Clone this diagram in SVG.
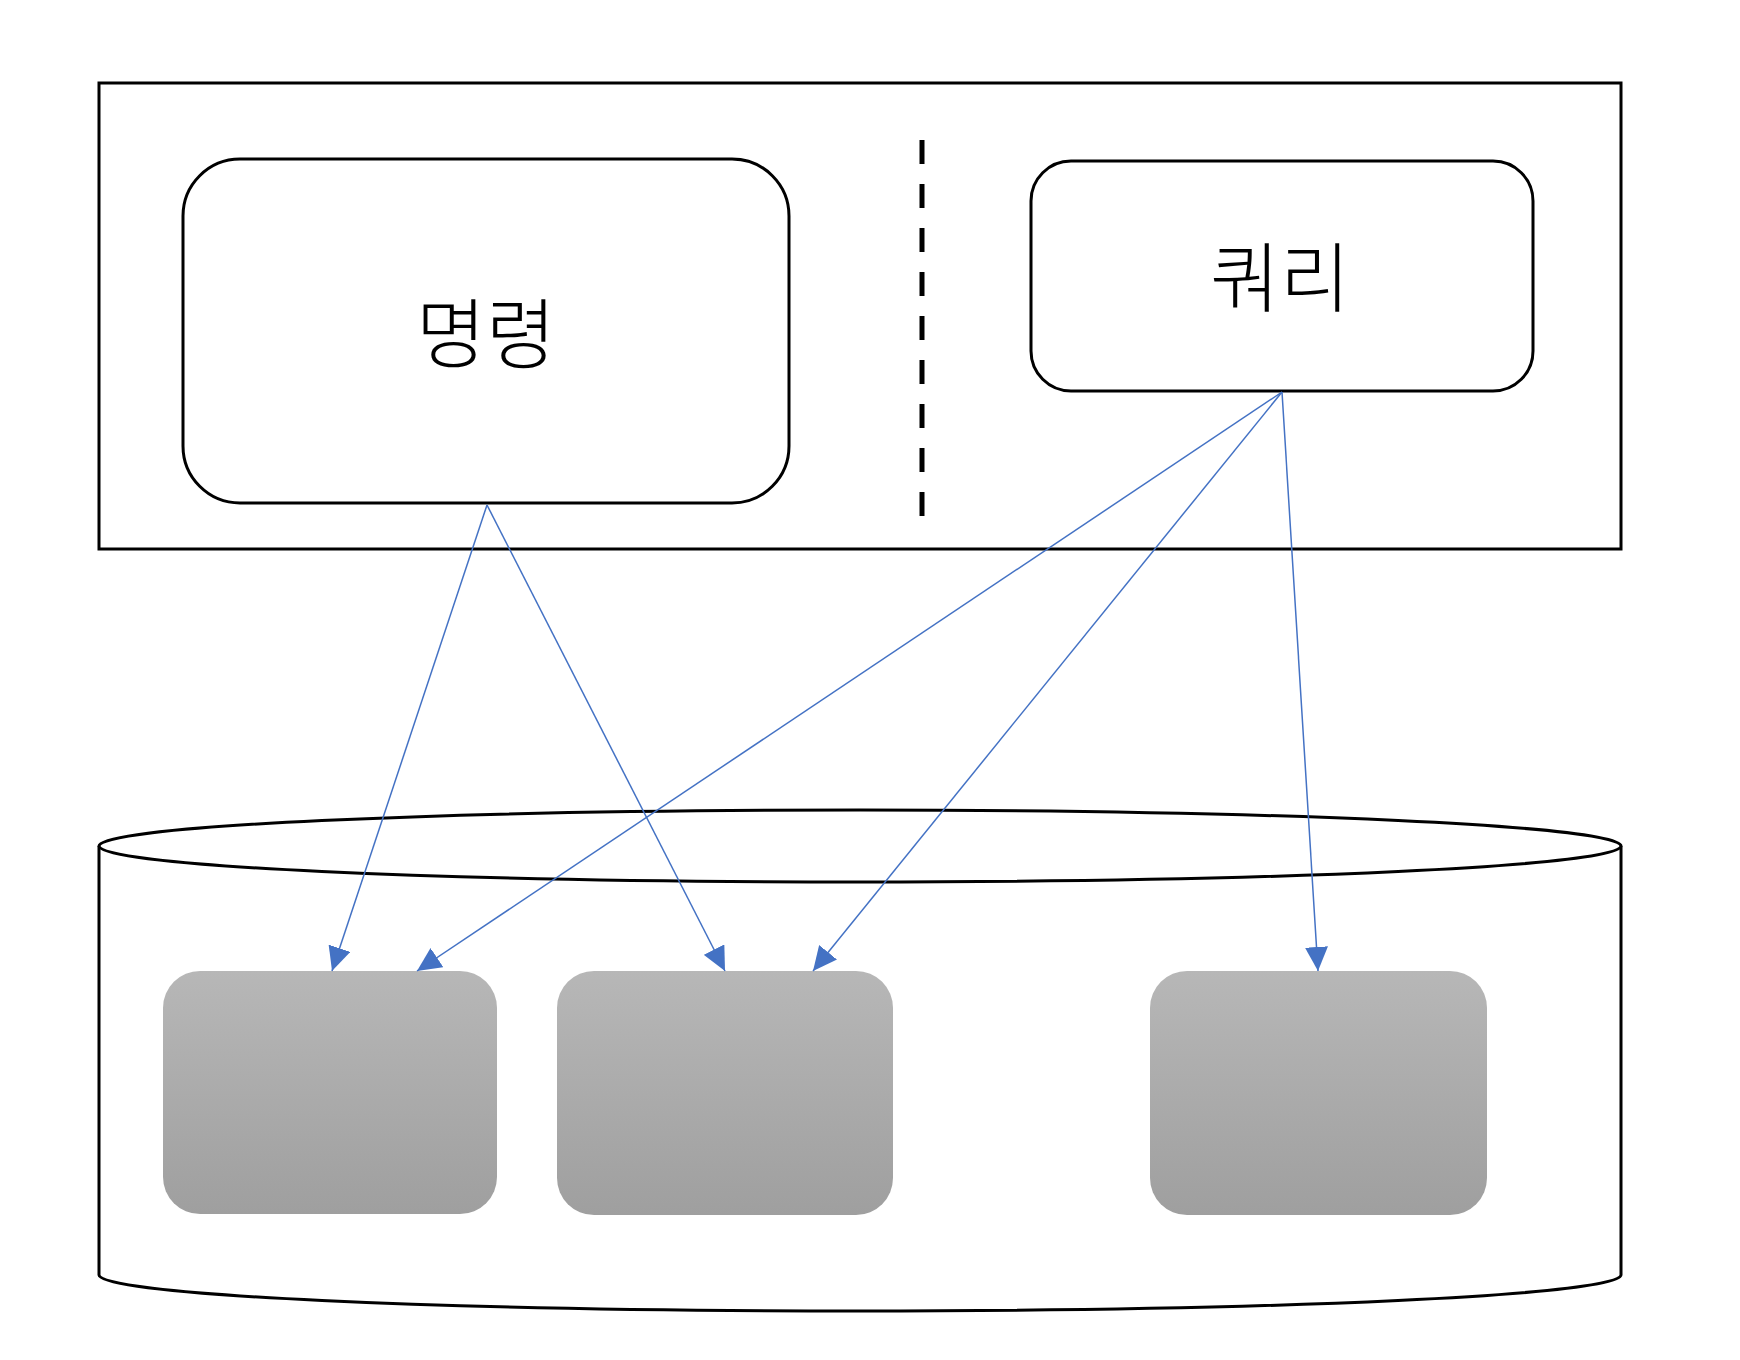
<svg xmlns="http://www.w3.org/2000/svg" width="1740" height="1360" viewBox="0 0 1740 1360">
<defs>
<style>
.frame{fill:#fff;stroke:#000;stroke-width:3}
.box{fill:#fff;stroke:#000;stroke-width:3}
.label{font-family:"Noto Sans CJK KR","Noto Sans",sans-serif;font-size:76px;font-weight:300;fill:#000;text-anchor:middle;dominant-baseline:central}
.store{fill:url(#grayGrad)}
.conn{stroke:#4472C4;stroke-width:1.5;fill:none;marker-end:url(#arrow)}
</style>
<linearGradient id="grayGrad" x1="0" y1="0" x2="0" y2="1">
<stop offset="0" stop-color="#b7b7b7"/>
<stop offset="1" stop-color="#9f9f9f"/>
</linearGradient>
<marker id="arrow" markerUnits="userSpaceOnUse" markerWidth="24" markerHeight="23" refX="24" refY="11.5" orient="auto">
<path d="M0,0 L24,11.5 L0,23 z" fill="#4472C4"/>
</marker>
</defs>
<rect width="1740" height="1360" fill="#fff"/>
<g id="app-boundary">
<rect class="frame" x="99" y="83" width="1522" height="466"/>
<line x1="922" y1="140" x2="922" y2="516" stroke="#000" stroke-width="5" stroke-dasharray="24 20"/>
</g>
<g id="command">
<rect class="box" x="183" y="159" width="606" height="344" rx="57" ry="57"/>
<text class="label" x="486" y="329">명령</text>
</g>
<g id="query">
<rect class="box" x="1031" y="161" width="502" height="230" rx="40" ry="40"/>
<text class="label" x="1280" y="273">쿼리</text>
</g>
<g id="database">
<path class="frame" d="M99,846 L99,1275 A761,36 0 0 0 1621,1275 L1621,846"/>
<ellipse class="frame" cx="860" cy="846" rx="761" ry="36"/>
</g>
<g id="store-1"><rect class="store" x="163" y="971" width="334" height="243" rx="37" ry="37"/></g>
<g id="store-2"><rect class="store" x="557" y="971" width="336" height="244" rx="37" ry="37"/></g>
<g id="store-3"><rect class="store" x="1150" y="971" width="337" height="244" rx="37" ry="37"/></g>
<g id="connectors">
<line class="conn" x1="487" y1="505" x2="332" y2="971"/>
<line class="conn" x1="487" y1="505" x2="725" y2="971"/>
<line class="conn" x1="1282" y1="392" x2="417" y2="971"/>
<line class="conn" x1="1282" y1="392" x2="813" y2="971"/>
<line class="conn" x1="1282" y1="392" x2="1318" y2="971"/>
</g>
</svg>
